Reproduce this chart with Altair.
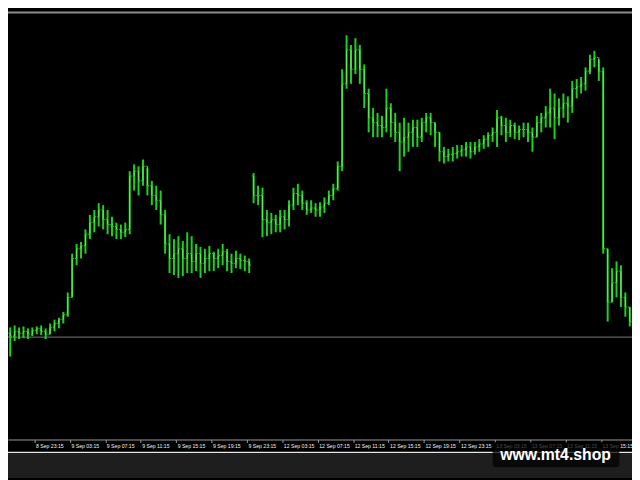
import json
import altair as alt
import pandas as pd

# ---- data (prices in points above 1.3000) ----
high_pts = [
    174, 176, 174, 175, 173, 174, 175, 176, 173, 178,
    182, 184, 190, 210, 250, 260, 262, 275, 290, 295,
    302, 300, 295, 288, 282, 280, 282, 335, 342, 340,
    347, 338, 325, 320, 315, 295, 270, 265, 268, 263,
    272, 268, 260, 257, 255, 258, 252, 255, 260, 255,
    250, 253, 250, 248, 245, 333, 320, 318, 295, 292,
    290, 295, 295, 305, 318, 322, 315, 305, 305, 302,
    303, 308, 315, 322, 345, 440, 475, 465, 472, 465,
    445, 420, 400, 395, 392, 420, 405, 395, 385, 390,
    385, 388, 388, 390, 395, 395, 385, 375, 360, 358,
    360, 362, 362, 365, 365, 365, 368, 372, 375, 380,
    398, 392, 390, 388, 385, 382, 385, 385, 380, 392,
    395, 402, 420, 415, 410, 415, 412, 428, 430, 432,
    442, 455, 459, 450, 442, 255, 235, 242, 238, 210,
    195,
]
low_pts = [
    144, 160, 162, 163, 162, 165, 167, 166, 162, 167,
    170, 173, 178, 185, 205, 238, 245, 250, 265, 272,
    278, 275, 270, 268, 265, 265, 267, 270, 315, 310,
    320, 310, 300, 295, 280, 250, 230, 228, 225, 227,
    230, 230, 232, 225, 230, 232, 232, 235, 238, 232,
    230, 235, 234, 232, 230, 302, 300, 267, 268, 270,
    272, 272, 275, 278, 295, 300, 295, 290, 292, 288,
    288, 292, 300, 305, 315, 335, 420, 425, 435, 425,
    400, 375, 370, 370, 370, 375, 370, 365, 335, 350,
    355, 360, 360, 365, 375, 372, 360, 345, 343, 345,
    345, 348, 350, 350, 348, 352, 355, 358, 360, 365,
    360, 372, 365, 370, 368, 367, 370, 365, 355, 370,
    375, 380, 380, 368, 382, 390, 385, 395, 410, 415,
    418, 435, 442, 428, 250, 180, 200, 205, 195, 185,
    175,
]
open_pts = [
    168, 165, 170, 168, 170, 167, 171, 173, 170, 167,
    174, 178, 182, 187, 205, 245, 255, 258, 270, 282,
    288, 295, 285, 280, 278, 275, 272, 275, 330, 335,
    325, 340, 320, 310, 305, 290, 260, 245, 250, 255,
    245, 250, 242, 250, 240, 245, 250, 245, 248, 252,
    242, 240, 245, 243, 242, 330, 310, 310, 285, 282,
    285, 280, 288, 285, 300, 312, 310, 302, 295, 297,
    295, 298, 302, 310, 317, 340, 425, 460, 440, 460,
    440, 415, 390, 385, 382, 380, 400, 385, 375, 365,
    370, 375, 380, 370, 385, 390, 385, 375, 355, 350,
    352, 353, 355, 357, 360, 355, 360, 363, 368, 372,
    375, 390, 382, 375, 382, 375, 378, 378, 375, 370,
    385, 390, 395, 400, 390, 400, 405, 402, 420, 422,
    425, 438, 450, 452, 438, 255, 200, 220, 232, 205,
    195,
]
close_pts = [
    165, 170, 168, 170, 167, 171, 173, 170, 167, 174,
    178, 182, 187, 205, 245, 255, 258, 270, 282, 288,
    295, 285, 280, 278, 275, 272, 275, 330, 335, 325,
    340, 320, 310, 305, 290, 260, 245, 250, 255, 245,
    250, 242, 250, 240, 245, 250, 245, 248, 252, 242,
    240, 245, 243, 242, 238, 310, 310, 285, 282, 285,
    280, 288, 285, 300, 312, 310, 302, 295, 297, 295,
    298, 302, 310, 317, 340, 425, 460, 440, 460, 440,
    415, 390, 385, 382, 380, 400, 385, 375, 365, 370,
    375, 380, 370, 385, 390, 385, 375, 355, 350, 352,
    353, 355, 357, 360, 355, 360, 363, 368, 372, 375,
    390, 382, 375, 382, 375, 378, 378, 375, 370, 385,
    390, 395, 400, 390, 400, 405, 402, 420, 422, 425,
    438, 450, 452, 438, 255, 200, 220, 232, 205, 195,
    180,
]
level_pts = 164  # horizontal price line

tick_labels = [
    "8 Sep 19:15", "8 Sep 23:15", "9 Sep 03:15", "9 Sep 07:15", "9 Sep 11:15",
    "9 Sep 15:15", "9 Sep 19:15", "9 Sep 23:15", "12 Sep 03:15", "12 Sep 07:15",
    "12 Sep 11:15", "12 Sep 15:15", "12 Sep 19:15", "12 Sep 23:15", "13 Sep 03:15",
    "13 Sep 07:15", "13 Sep 11:15", "13 Sep 15:15",
]
tick_positions = [-2.5, 5.5, 13.5, 21.5, 29.5, 37.5, 45.5, 53.5, 61.5, 69.5,
                  77.5, 85.5, 93.5, 101.5, 109.5, 117.5, 125.5, 133.5]
watermark = "www.mt4.shop"

BASE = 1.3
PT = 0.0001


def to_price(pts):
    return [round(BASE + p * PT, 4) for p in pts]


df = pd.DataFrame({
    "i": list(range(len(close_pts))),
    "open": to_price(open_pts),
    "high": to_price(high_pts),
    "low": to_price(low_pts),
    "close": to_price(close_pts),
})
one = pd.DataFrame({"k": [0]})
level_df = pd.DataFrame({"p": to_price([level_pts])})

W, H = 632, 431
GREEN = "#1fd01f"
GREEN_LIGHT = "#5cf05c"

x_scale = alt.Scale(domain=[-0.5, 140.5], nice=False, zero=False)
y_scale = alt.Scale(domain=[1.30585, 1.3497], nice=False, zero=False)

label_expr = json.dumps(tick_labels) + "[round((datum.value + 2.5) / 8)]"
x_axis = alt.Axis(
    values=tick_positions, labelExpr=label_expr, title=None, grid=False,
    domainColor="#9a9a9a", domainWidth=1, tickColor="#9a9a9a", tickSize=3,
    tickWidth=1, labelColor="#f2f2f2", labelFont="Liberation Sans",
    labelFontSize=5.2, labelAlign="left", labelBaseline="middle",
    labelPadding=3.5, labelOffset=1, labelOverlap=False, labelFlush=False,
)

X = alt.X("i:Q", scale=x_scale, axis=x_axis)

base = alt.Chart(df)

level = alt.Chart(level_df).mark_rule(color="#7a7a7a", strokeWidth=1).encode(
    y=alt.Y("p:Q", scale=y_scale, axis=None)
)

hilo = base.mark_rule(color=GREEN, strokeWidth=2).encode(
    x=X,
    y=alt.Y("high:Q", scale=y_scale, axis=None),
    y2="low:Q",
)
body = base.mark_rule(color=GREEN_LIGHT, strokeWidth=1).encode(
    x=X,
    y=alt.Y("open:Q", scale=y_scale, axis=None),
    y2="close:Q",
)
open_tick = base.mark_rule(color=GREEN, strokeWidth=1, xOffset=-1.8, x2Offset=0).encode(
    x=X, x2="i:Q", y=alt.Y("open:Q", scale=y_scale, axis=None)
)
close_tick = base.mark_rule(color=GREEN, strokeWidth=1, xOffset=0, x2Offset=1.8).encode(
    x=X, x2="i:Q", y=alt.Y("close:Q", scale=y_scale, axis=None)
)

top_line = alt.Chart(one).mark_rule(color="#8c8c8c", strokeWidth=2).encode(
    x=alt.value(0), x2=alt.value(W), y=alt.value(-1.5)
)
strip = alt.Chart(one).mark_rect(color="#1e1e1e").encode(
    x=alt.value(0), x2=alt.value(W), y=alt.value(444.6), y2=alt.value(470)
)
white_line = alt.Chart(one).mark_rule(color="#e6e6e6", strokeWidth=1.2).encode(
    x=alt.value(0), x2=alt.value(W), y=alt.value(444)
)
box = alt.Chart(one).mark_rect(color="black", opacity=0.72, cornerRadius=3).encode(
    x=alt.value(490.8), x2=alt.value(619.2), y=alt.value(433.6), y2=alt.value(459.2)
)
wm = alt.Chart(one).mark_text(
    text=watermark, font="Liberation Sans", fontSize=16, fontWeight="bold",
    color="white", align="center", baseline="alphabetic",
).encode(x=alt.value(554.6), y=alt.value(451.6))

chart = alt.layer(
    level, hilo, body, open_tick, close_tick, top_line, strip, white_line, box, wm
).properties(
    width=W, height=H, background="black",
    padding={"left": 0, "top": 3, "right": 0, "bottom": 38},
    autosize=alt.AutoSizeParams(type="none"),
).configure_view(stroke=None)

chart.save("out.html", embed_options={"renderer": "svg", "actions": False})
